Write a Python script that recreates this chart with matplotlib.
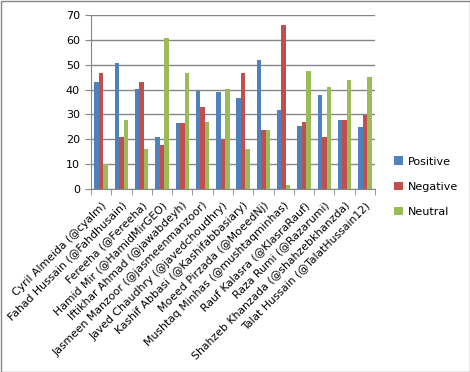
import matplotlib
matplotlib.use("Agg")
import matplotlib.pyplot as plt
import numpy as np
from matplotlib.patches import Rectangle

categories = ["Cyril Almeida (@cyalm)", "Fahad Hussain (@Fahdhusain)", "Fereeha (@Fereeha)",
              "Hamid Mir (@HamidMirGEO)", "Iftikhar Ahmad (@jawabdeyh)",
              "Jasmeen Manzoor (@jasmeenmanzoor)", "Javed Chaudhry (@javedchoudhry)",
              "Kashif Abbasi (@Kashifabbasiary)", "Moeed Pirzada (@MoeedNj)",
              "Mushtaq Minhas (@mushtaqminhas)", "Rauf Kalasra (@KlasraRauf)",
              "Raza Rumi (@Razarumi)", "Shahzeb Khanzada (@shahzebkhanzda)",
              "Talat Hussain (@TalatHussain12)"]
positive = [43.2, 50.8, 40.2, 21.0, 26.7, 39.5, 39.0, 36.6, 51.9, 31.8, 25.3, 37.8, 27.9, 25.1]
negative = [46.8, 21.0, 43.2, 17.8, 26.7, 33.1, 20.2, 46.8, 23.7, 66.1, 27.0, 21.0, 27.9, 29.9]
neutral = [10.1, 27.9, 16.1, 60.7, 46.8, 27.0, 40.2, 16.2, 23.7, 1.6, 47.6, 41.0, 44.0, 45.2]
series_names = ["Positive", "Negative", "Neutral"]
colors = ["#4F81BD", "#C0504D", "#9BBB59"]

plt.rcParams['font.family'] = ['DejaVu Sans']

fig = plt.figure(figsize=(4.70, 3.72), dpi=100)
ax = fig.add_axes([91/470, 1-189/372, (375-91)/470, (189-15)/372])

x = np.arange(len(categories))
w = 1/4.5
for i, (vals, name, c) in enumerate(zip([positive, negative, neutral], series_names, colors)):
    ax.bar(x + (i-1)*w, vals, w, color=c, label=name, zorder=3)

ax.set_xlim(-0.5, len(categories)-0.5)
ax.set_ylim(0, 70)
ax.set_yticks(range(0, 71, 10))
ax.yaxis.grid(True, color="#868686", linewidth=1.0, zorder=0)
ax.set_xticks(x)
ax.set_xticklabels(categories, rotation=45, ha='right', rotation_mode='anchor', fontsize=7.8)
ax.set_xticks(np.arange(-0.5, len(categories)), minor=True)
ax.tick_params(axis='x', which='major', length=0, pad=8)
ax.tick_params(axis='x', which='minor', length=4, color="#868686", direction='out')
ax.tick_params(axis='y', length=4, color="#868686", labelsize=8, pad=4)
for s in ['top', 'right']:
    ax.spines[s].set_visible(False)
for s in ['left', 'bottom']:
    ax.spines[s].set_color("#868686")
ax.set_axisbelow(True)

fig.legend(loc='upper left', bbox_to_anchor=(390/470, 1-152/372), frameon=False,
           fontsize=8, handlelength=0.8, handleheight=0.8, labelspacing=1.35,
           handletextpad=0.4, borderaxespad=0)

fig.patches.append(Rectangle((0.5/470, 0.5/372), 1-1/470, 1-1/372, transform=fig.transFigure,
                             fill=False, edgecolor="#868686", linewidth=1.0))

fig.savefig("out.png", dpi=100)
